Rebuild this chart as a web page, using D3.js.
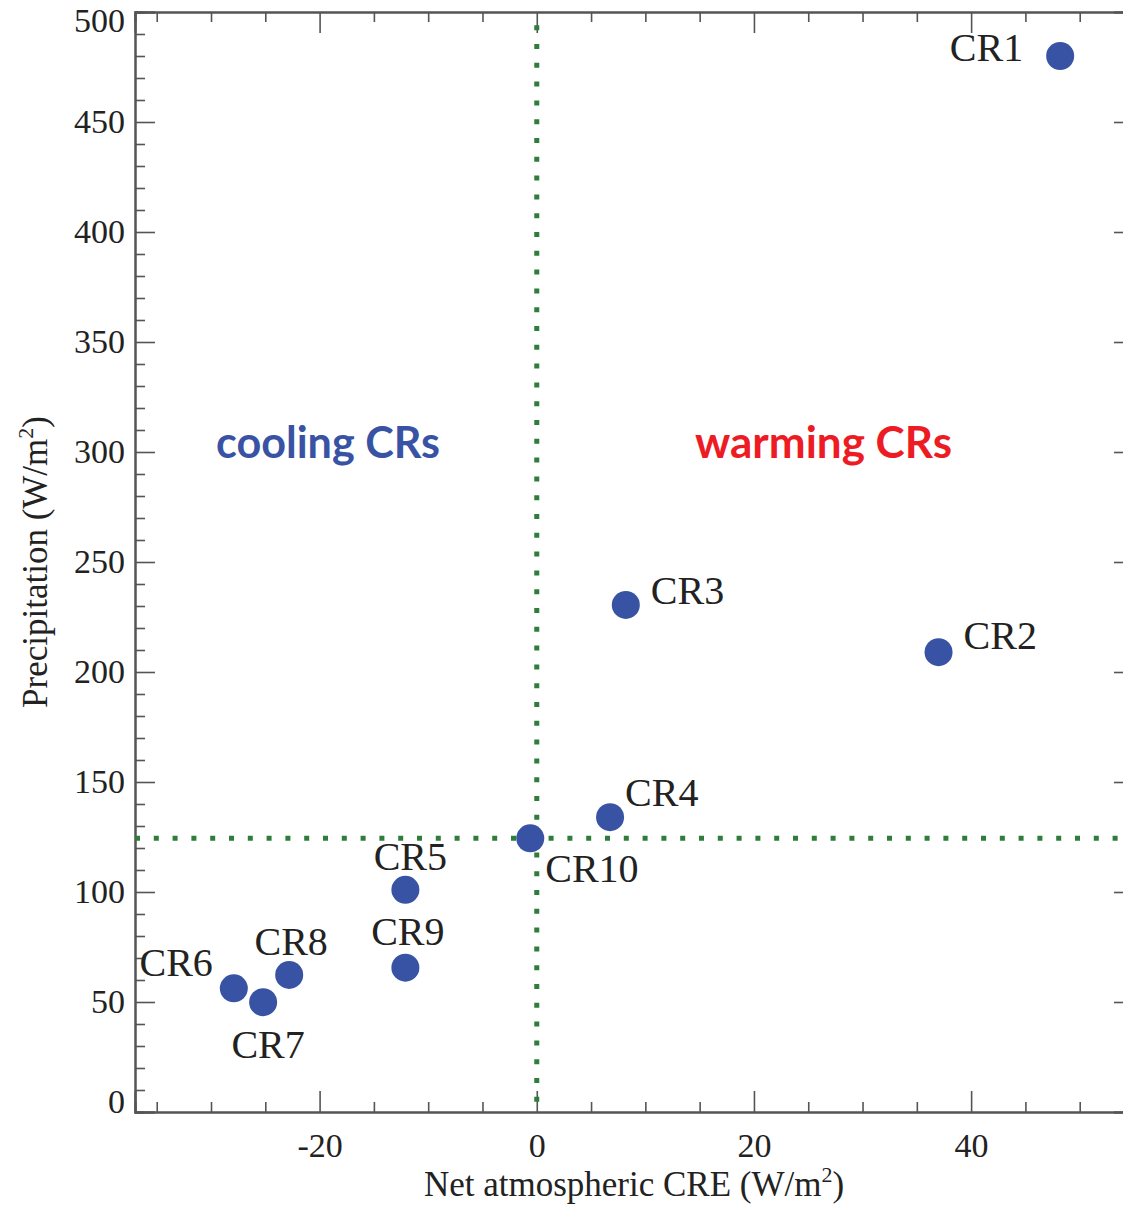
<!DOCTYPE html>
<html>
<head>
<meta charset="utf-8">
<script src="https://cdn.jsdelivr.net/npm/d3@7"></script>
<style>
  html, body { margin: 0; padding: 0; background: #fff; }
  svg { display: block; }
</style>
</head>
<body>
<svg id="chart" width="1123" height="1205"></svg>
<script>
// ---- data ----
const names = ["CR1", "CR2", "CR3", "CR4", "CR5", "CR6", "CR7", "CR8", "CR9", "CR10"];
const creValues = [48.2, 37.0, 8.2, 6.75, -12.1, -27.9, -25.2, -22.8, -12.1, -0.6];
const precipValues = [480, 209, 230.5, 134, 101, 56.2, 49.9, 62.3, 65.6, 124.4];
const xMajorTicks = [-20, 0, 20, 40];
const yMajorTicks = [0, 50, 100, 150, 200, 250, 300, 350, 400, 450, 500];
const meanCRE = 0;
const meanPrecip = 124.4;
const regionLabels = ["cooling CRs", "warming CRs"];

// ---- label layout (pixel offsets from each point) ----
const labelLayout = {
  CR1: { dx: -37, dy: 5, anchor: "end" },
  CR2: { dx: 25, dy: -3, anchor: "start" },
  CR3: { dx: 25, dy: -1, anchor: "start" },
  CR4: { dx: 15, dy: -11, anchor: "start" },
  CR5: { dx: 5, dy: -20, anchor: "middle" },
  CR6: { dx: -21, dy: -12, anchor: "end" },
  CR7: { dx: 5, dy: 56, anchor: "middle" },
  CR8: { dx: 2, dy: -20, anchor: "middle" },
  CR9: { dx: 2.5, dy: -23, anchor: "middle" },
  CR10: { dx: 15, dy: 44, anchor: "start" }
};

(function () {
const svg = d3.select("#chart");
const serif = "'Liberation Serif', 'Times New Roman', serif";
const axisColor = "#555";
const green = "#2e7d3a";
const blue = "#3953a4";

const pLeft = 135, pRight = 1134, pTop = 12, pBottom = 1112;
const x = d3.scaleLinear().domain([-37, 55]).range([pLeft, pRight]);
const y = d3.scaleLinear().domain([0, 500]).range([pBottom, pTop]);

const xMinor = d3.range(-35, 56, 5).filter(v => !xMajorTicks.includes(v));
const yMinor = d3.range(0, 501, 10).filter(v => !yMajorTicks.includes(v));

function styleAxis(g) {
  g.selectAll(".domain").attr("stroke", axisColor).attr("stroke-width", 2);
  g.selectAll(".tick line").attr("stroke", axisColor).attr("stroke-width", 1.6);
  g.selectAll("text").attr("font-family", serif).attr("font-size", 34).attr("fill", "#222");
}

// bottom axis
svg.append("g").attr("transform", `translate(0,${pBottom})`)
  .call(d3.axisBottom(x).tickValues(xMinor).tickSize(-10).tickFormat(""))
  .call(styleAxis);
const gxb = svg.append("g").attr("transform", `translate(0,${pBottom})`)
  .call(d3.axisBottom(x).tickValues(xMajorTicks).tickSize(-21).tickPadding(21).tickFormat(d3.format("d")))
  .call(styleAxis);
gxb.selectAll(".tick text").text(d => d < 0 ? "-" + Math.abs(d) : d);

// top axis
svg.append("g").attr("transform", `translate(0,${pTop})`)
  .call(d3.axisTop(x).tickValues(xMinor).tickSize(-10).tickFormat(""))
  .call(styleAxis);
svg.append("g").attr("transform", `translate(0,${pTop})`)
  .call(d3.axisTop(x).tickValues(xMajorTicks).tickSize(-21).tickFormat(""))
  .call(styleAxis);

// left axis
svg.append("g").attr("transform", `translate(${pLeft},0)`)
  .call(d3.axisLeft(y).tickValues(yMinor).tickSize(-10).tickFormat(""))
  .call(styleAxis);
const gyl = svg.append("g").attr("transform", `translate(${pLeft},0)`)
  .call(d3.axisLeft(y).tickValues(yMajorTicks).tickSize(-20).tickPadding(10).tickFormat(d3.format("d")))
  .call(styleAxis);
gyl.selectAll(".tick text").attr("dy", d => d === 500 ? "0.58em" : d === 0 ? "0.02em" : "0.32em");

// right axis
svg.append("g").attr("transform", `translate(${pRight},0)`)
  .call(d3.axisRight(y).tickValues(yMinor).tickSize(-10).tickFormat(""))
  .call(styleAxis);
svg.append("g").attr("transform", `translate(${pRight},0)`)
  .call(d3.axisRight(y).tickValues(yMajorTicks).tickSize(-20).tickFormat(""))
  .call(styleAxis);

// dotted reference lines
svg.append("line")
  .attr("x1", x(meanCRE)).attr("x2", x(meanCRE))
  .attr("y1", y(494)).attr("y2", y(0))
  .attr("stroke", green).attr("stroke-width", 5).attr("stroke-dasharray", "5 13.8");
svg.append("line")
  .attr("x1", x(-37)).attr("x2", x(55))
  .attr("y1", y(meanPrecip)).attr("y2", y(meanPrecip))
  .attr("stroke", green).attr("stroke-width", 5).attr("stroke-dasharray", "5 13.8");

// points
const pts = names.map((n, i) => ({ name: n, cre: creValues[i], p: precipValues[i] }));
svg.append("g").selectAll("circle").data(pts).join("circle")
  .attr("cx", d => x(d.cre)).attr("cy", d => y(d.p)).attr("r", 14)
  .attr("fill", blue);

// point labels
svg.append("g").selectAll("text").data(pts).join("text")
  .attr("x", d => x(d.cre) + labelLayout[d.name].dx)
  .attr("y", d => y(d.p) + labelLayout[d.name].dy)
  .attr("text-anchor", d => labelLayout[d.name].anchor)
  .attr("font-family", serif).attr("font-size", 40).attr("fill", "#222")
  .text(d => d.name);

// region labels
svg.append("text").attr("x", 216).attr("y", 458)
  .attr("font-family", "Lato, 'Open Sans', sans-serif").attr("font-weight", "bold")
  .attr("font-size", 43).attr("fill", blue)
  .attr("textLength", 224).attr("lengthAdjust", "spacingAndGlyphs")
  .text(regionLabels[0]);
svg.append("text").attr("x", 695).attr("y", 458)
  .attr("font-family", "Lato, 'Open Sans', sans-serif").attr("font-weight", "bold")
  .attr("font-size", 43).attr("fill", "#ed1c24")
  .attr("textLength", 257).attr("lengthAdjust", "spacingAndGlyphs")
  .text(regionLabels[1]);

// axis titles
const xt = svg.append("text").attr("x", 634).attr("y", 1196)
  .attr("text-anchor", "middle").attr("font-family", serif).attr("font-size", 35).attr("fill", "#222");
xt.append("tspan").text("Net atmospheric CRE (W/m");
xt.append("tspan").attr("font-size", 22).attr("dy", -14).text("2");
xt.append("tspan").attr("dy", 14).text(")");

const yt = svg.append("text").attr("transform", "translate(47,562) rotate(-90)")
  .attr("text-anchor", "middle").attr("font-family", serif).attr("font-size", 35).attr("fill", "#222");
yt.append("tspan").text("Precipitation (W/m");
yt.append("tspan").attr("font-size", 22).attr("dy", -14).text("2");
yt.append("tspan").attr("dy", 14).text(")");
})();
</script>
</body>
</html>
